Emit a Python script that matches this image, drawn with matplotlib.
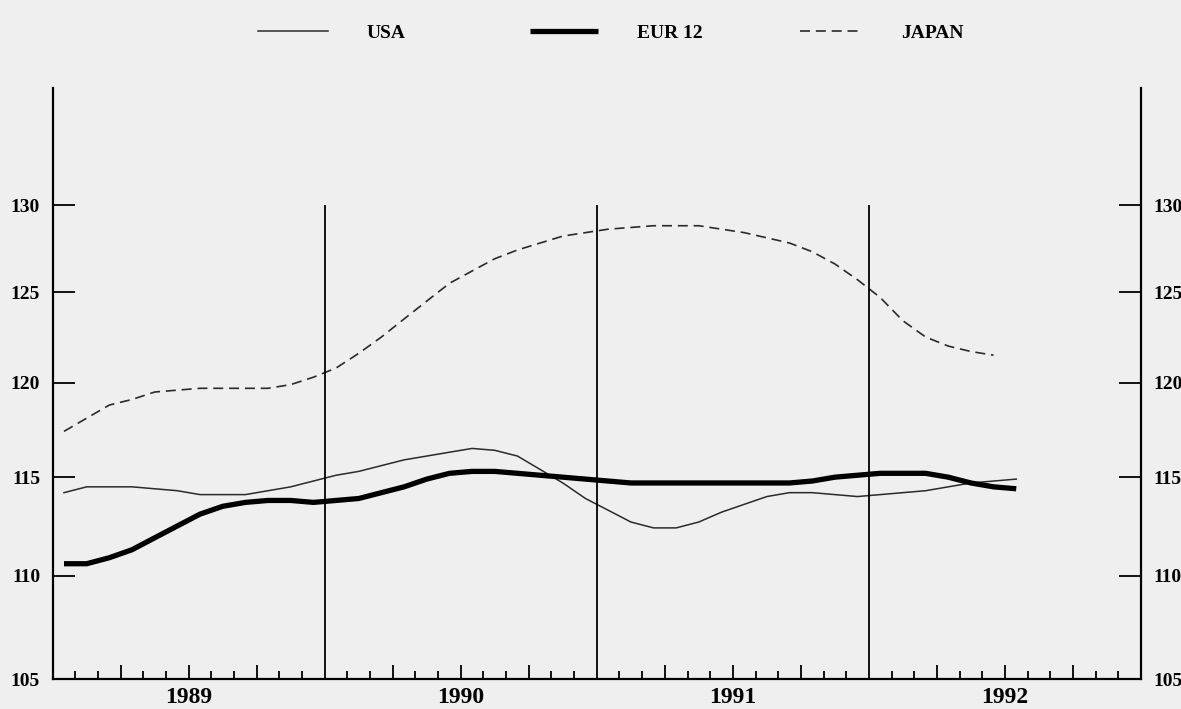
import numpy as np
import matplotlib.pyplot as plt
from matplotlib.ticker import FixedLocator, FixedFormatter, NullLocator

# =========================
# Data (monthly index values, Jan 1989 onwards)
# =========================

usa = [114.2, 114.5, 114.5, 114.5, 114.4, 114.3, 114.1, 114.1, 114.1, 114.3, 114.5, 114.8,
       115.1, 115.3, 115.6, 115.9, 116.1, 116.3, 116.5, 116.4, 116.1, 115.4, 114.7, 113.9,
       113.3, 112.7, 112.4, 112.4, 112.7, 113.2, 113.6, 114.0, 114.2, 114.2, 114.1, 114.0,
       114.1, 114.2, 114.3, 114.5, 114.7, 114.8, 114.9]

eur12 = [110.6, 110.6, 110.9, 111.3, 111.9, 112.5, 113.1, 113.5, 113.7, 113.8, 113.8, 113.7,
         113.8, 113.9, 114.2, 114.5, 114.9, 115.2, 115.3, 115.3, 115.2, 115.1, 115.0, 114.9,
         114.8, 114.7, 114.7, 114.7, 114.7, 114.7, 114.7, 114.7, 114.7, 114.8, 115.0, 115.1,
         115.2, 115.2, 115.2, 115.0, 114.7, 114.5, 114.4]

japan = [117.4, 118.1, 118.8, 119.1, 119.5, 119.6, 119.7, 119.7, 119.7, 119.7, 119.9, 120.3,
         120.8, 121.6, 122.5, 123.5, 124.5, 125.5, 126.2, 126.9, 127.4, 127.8, 128.2, 128.4,
         128.6, 128.7, 128.8, 128.8, 128.8, 128.6, 128.4, 128.1, 127.8, 127.3, 126.6, 125.7,
         124.7, 123.4, 122.5, 122.0, 121.7, 121.5]

years = [1989, 1990, 1991, 1992]
y_ticks = [105, 110, 115, 120, 125, 130]

# mid-month positions
def months(n, start=1989):
    return start + (np.arange(n) + 0.5) / 12

# =========================
# Plot
# =========================

plt.rcParams['font.family'] = ['Liberation Serif', 'DejaVu Serif']
plt.rcParams['font.weight'] = 'bold'

bg = '#efefef'
fig = plt.figure(figsize=(11.81, 7.09), dpi=100, facecolor=bg)
ax = fig.add_axes([0.0446, 0.0423, 0.9215, 0.8336], facecolor=bg)

l_usa, = ax.plot(months(len(usa)), usa, color='#2a2a2a', lw=1.1,
                 solid_joinstyle='round')
l_eur, = ax.plot(months(len(eur12)), eur12, color='black', lw=3.8,
                 solid_capstyle='butt', solid_joinstyle='round')
l_jap, = ax.plot(months(len(japan)), japan, color='#2a2a2a', lw=1.2,
                 dashes=(6, 3.5))

ax.set_yscale('log')
ax.set_ylim(105, 137.05)
ax.set_xlim(1989, 1993)

# year separators
ax.vlines([1990, 1991, 1992], 105, 130, color='black', lw=1.3)

# y axis on both sides, ticks inward
ax.yaxis.set_major_locator(FixedLocator(y_ticks))
ax.yaxis.set_major_formatter(FixedFormatter([str(v) for v in y_ticks]))
ax.yaxis.set_minor_locator(NullLocator())
ax.tick_params(axis='y', which='major', direction='in', length=16, width=1.3,
               left=True, right=True, labelleft=True, labelright=True,
               labelsize=14, pad=9)

# x axis: quarter ticks (tall), month ticks (short), years at mid-year
quarters = [y + q / 4 for y in years for q in range(1, 4)]
ax.xaxis.set_major_locator(FixedLocator(quarters))
ax.xaxis.set_major_formatter(FixedFormatter(
    [str(int(q)) if abs(q % 1 - 0.5) < 1e-6 else '' for q in quarters]))
ax.xaxis.set_minor_locator(FixedLocator(
    [1989 + k / 12 for k in range(1, 48) if k % 3 != 0]))
ax.tick_params(axis='x', which='major', direction='in', length=10, width=1.3,
               labelsize=17, pad=6)
ax.tick_params(axis='x', which='minor', direction='in', length=6, width=1.3)

for s in ['left', 'right', 'bottom']:
    ax.spines[s].set_linewidth(1.6)
ax.spines['top'].set_visible(False)

# legend entries placed one by one along the top
for handle, label, x0, hl in [(l_usa, 'USA', 0.2185, 3.6),
                              (l_eur, 'EUR 12', 0.4488, 3.5),
                              (l_jap, 'JAPAN', 0.6774, 3.2)]:
    fig.legend([handle], [label], loc='center left', bbox_to_anchor=(x0, 0.953),
               frameon=False, fontsize=14, handlelength=hl, handletextpad=2.0,
               borderpad=0, borderaxespad=0)

plt.savefig('out.png', dpi=100, facecolor=bg)
